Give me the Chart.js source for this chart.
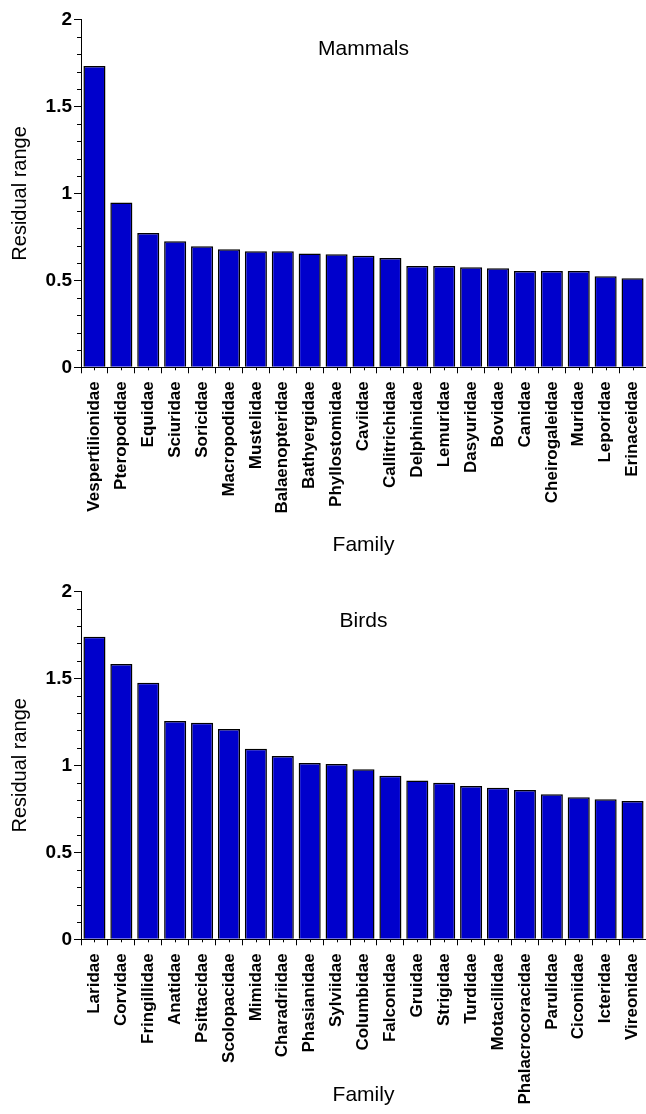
<!DOCTYPE html>
<html>
<head>
    <script src="https://cdn.jsdelivr.net/npm/chart.js@4.4.0/dist/chart.umd.min.js"></script>
    <style>
        body { margin: 0; background: #fff; }
        canvas { display: block; }
    </style>
</head>
<body>
    <canvas id="mammalChart" width="646" height="560"></canvas>
    <canvas id="birdChart" width="646" height="554"></canvas>

    <script>
        // Families ranked by residual range
        var mammalFamilies = ['Vespertilionidae', 'Pteropodidae', 'Equidae', 'Sciuridae', 'Soricidae',
            'Macropodidae', 'Mustelidae', 'Balaenopteridae', 'Bathyergidae', 'Phyllostomidae', 'Caviidae',
            'Callitrichidae', 'Delphinidae', 'Lemuridae', 'Dasyuridae', 'Bovidae', 'Canidae',
            'Cheirogaleidae', 'Muridae', 'Leporidae', 'Erinaceidae'];
        var mammalRange = [1.733, 0.947, 0.773, 0.725, 0.696, 0.679, 0.667, 0.667, 0.654, 0.650, 0.642,
            0.629, 0.583, 0.583, 0.575, 0.570, 0.554, 0.554, 0.554, 0.524, 0.512];

        var birdFamilies = ['Laridae', 'Corvidae', 'Fringillidae', 'Anatidae', 'Psittacidae', 'Scolopacidae',
            'Mimidae', 'Charadriidae', 'Phasianidae', 'Sylviidae', 'Columbidae', 'Falconidae', 'Gruidae',
            'Strigidae', 'Turdidae', 'Motacillidae', 'Phalacrocoracidae', 'Parulidae', 'Ciconiidae',
            'Icteridae', 'Vireonidae'];
        var birdRange = [1.739, 1.582, 1.475, 1.255, 1.245, 1.209, 1.095, 1.053, 1.013, 1.007, 0.977,
            0.940, 0.912, 0.900, 0.881, 0.871, 0.858, 0.833, 0.816, 0.805, 0.795];

        var yTicks = [0, 0.5, 1, 1.5, 2];
        var yTickLabels = ['0', '0.5', '1', '1.5', '2'];
        var yMinorStep = 0.1;

        var FONT = 'Liberation Sans, Arial, sans-serif';

        // small outward ticks: every 0.1 on y, at each bar centre on x
        var minorTicks = {
            id: 'minorTicks',
            afterDraw: function(chart) {
                var ctx = chart.ctx;
                var x = chart.scales.x;
                var y = chart.scales.y;
                ctx.save();
                ctx.strokeStyle = '#000';
                ctx.lineWidth = 1;
                ctx.beginPath();
                var n = Math.round((y.max - y.min) / yMinorStep);
                for (var k = 1; k < n; k++) {
                    if (k % 5 === 0) continue;
                    var py = Math.round(y.getPixelForValue(y.min + k * yMinorStep)) + 0.5;
                    ctx.moveTo(x.left - 4, py);
                    ctx.lineTo(x.left, py);
                }
                for (var i = 0; i < chart.data.labels.length; i++) {
                    var px = Math.round(x.getPixelForValue(i)) + 0.5;
                    ctx.moveTo(px, y.bottom);
                    ctx.lineTo(px, y.bottom + 3);
                }
                ctx.stroke();
                ctx.restore();
            }
        };

        // panel name written inside the plot, near the top
        var panelLabel = {
            id: 'panelLabel',
            afterDraw: function(chart, args, opts) {
                var ctx = chart.ctx;
                var area = chart.chartArea;
                ctx.save();
                ctx.fillStyle = '#000';
                ctx.font = '21px ' + FONT;
                ctx.textAlign = 'center';
                ctx.textBaseline = 'middle';
                ctx.fillText(opts.text, (area.left + area.right) / 2, chart.scales.y.getPixelForValue(opts.at));
                ctx.restore();
            }
        };

        function makeChart(id, labels, values, name, padTop, axisHeight, titlePad) {
            return new Chart(document.getElementById(id), {
                type: 'bar',
                data: {
                    labels: labels,
                    datasets: [{
                        data: values,
                        backgroundColor: '#0000cc',
                        borderColor: '#000',
                        borderWidth: 1.5,
                        barPercentage: 0.82,
                        categoryPercentage: 1
                    }]
                },
                options: {
                    responsive: false,
                    animation: false,
                    layout: { padding: { top: padTop, right: 0, bottom: 0, left: 0 } },
                    plugins: {
                        legend: { display: false },
                        tooltip: { enabled: false },
                        panelLabel: { text: name, at: 1.83 }
                    },
                    scales: {
                        x: {
                            grid: { offset: true, drawOnChartArea: false, tickLength: 6, tickColor: '#000' },
                            border: { color: '#000', width: 1 },
                            ticks: {
                                autoSkip: false,
                                minRotation: 90,
                                maxRotation: 90,
                                padding: 8,
                                color: '#000',
                                font: { family: FONT, size: 17, weight: 'bold' }
                            },
                            title: {
                                display: true,
                                text: 'Family',
                                color: '#000',
                                font: { family: FONT, size: 21 },
                                padding: { top: 0, bottom: titlePad }
                            },
                            afterFit: function(s) {
                                s.height = axisHeight;
                                s.paddingLeft = 0;
                                s.paddingRight = 0;
                            }
                        },
                        y: {
                            min: 0,
                            max: 2,
                            afterBuildTicks: function(s) {
                                s.ticks = yTicks.map(function(v) { return { value: v }; });
                            },
                            grid: { drawOnChartArea: false, tickLength: 7, tickColor: '#000' },
                            border: { color: '#000', width: 1 },
                            ticks: {
                                padding: 2,
                                color: '#000',
                                font: { family: FONT, size: 19, weight: 'bold' },
                                callback: function(value, index) {
                                    return yTickLabels[index];
                                }
                            },
                            title: {
                                display: true,
                                text: 'Residual range',
                                color: '#000',
                                font: { family: FONT, size: 20 },
                                padding: { top: 8, bottom: 0 }
                            },
                            afterFit: function(s) {
                                s.width = 81;
                                s.paddingTop = 0;
                                s.paddingBottom = 0;
                            }
                        }
                    }
                },
                plugins: [minorTicks, panelLabel]
            });
        }

        makeChart('mammalChart', mammalFamilies, mammalRange, 'Mammals', 19.5, 192.7, 2.5);
        makeChart('birdChart', birdFamilies, birdRange, 'Birds', 31.3, 174.7, 6.5);
    </script>
</body>
</html>
